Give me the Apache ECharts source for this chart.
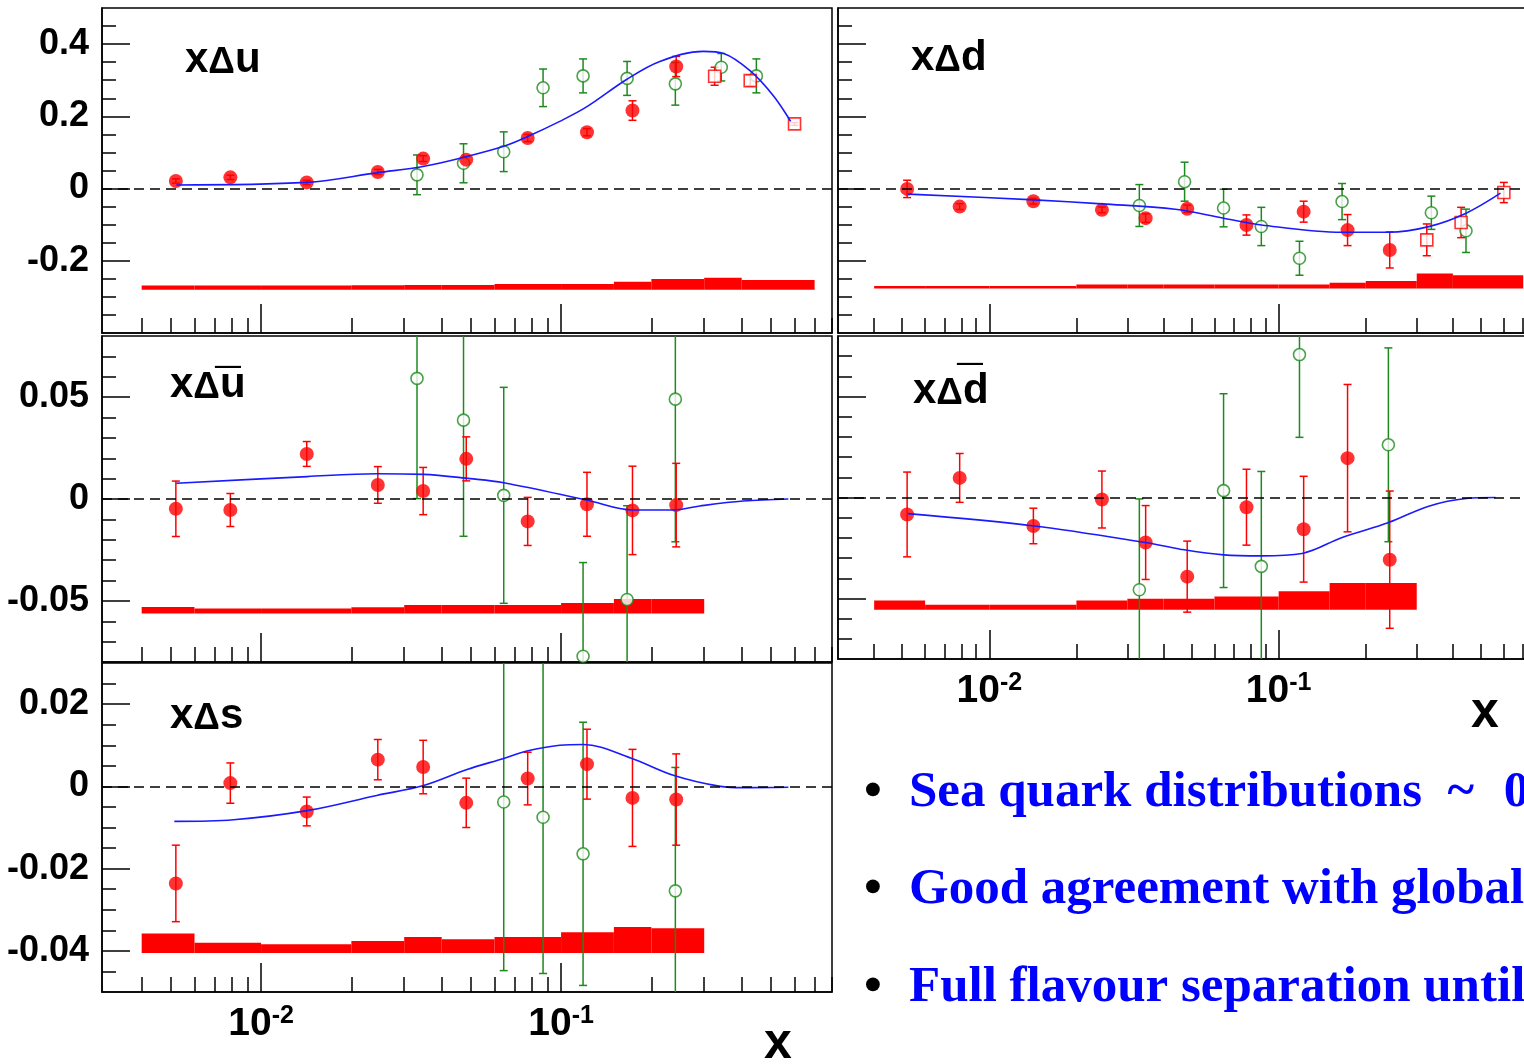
<!DOCTYPE html>
<html><head><meta charset="utf-8">
<script src="https://cdn.jsdelivr.net/npm/echarts@6/dist/echarts.min.js"></script>
<style>html,body{margin:0;padding:0;background:#fff}#c{width:1524px;height:1064px}</style>
</head><body><div id="c"></div>
<script>
// ---------------- DATA ----------------
const hermesX = [0.0052, 0.0079, 0.0142, 0.0245, 0.0347, 0.0483, 0.0774, 0.122, 0.173, 0.242];
const jlabX = [0.325, 0.427, 0.60];
const seaBinEdges = [0.004, 0.006, 0.01, 0.02, 0.03, 0.04, 0.06, 0.1, 0.15, 0.2, 0.3];
const valenceBinEdges = [0.004, 0.006, 0.01, 0.02, 0.03, 0.04, 0.06, 0.1, 0.15, 0.2, 0.3, 0.4, 0.7];

const xMajorTicks = [0.01, 0.1];
const xMinorTicks = [0.004,0.005,0.006,0.007,0.008,0.009,0.02,0.03,0.04,0.05,0.06,0.07,0.08,0.09,0.2,0.3,0.4,0.5,0.6,0.7,0.8];
const valYTicks = [-0.2, 0, 0.2, 0.4];
const valYMinorTicks = [-0.35,-0.3,-0.25,-0.15,-0.1,-0.05,0.05,0.1,0.15,0.25,0.3,0.35,0.45];
const seaYTicks = [-0.05, 0, 0.05];
const seaYMinorTicks = [-0.07,-0.06,-0.04,-0.03,-0.02,-0.01,0.01,0.02,0.03,0.04,0.06,0.07];
const strYTicks = [-0.04, -0.02, 0, 0.02];
const strYMinorTicks = [-0.045,-0.035,-0.03,-0.025,-0.015,-0.01,-0.005,0.005,0.01,0.015,0.025];

// x Delta u
const redU = [0.021, 0.031, 0.017, 0.046, 0.083, 0.080, 0.140, 0.156, 0.216, 0.338];
const redUErr = [0.006, 0.006, 0.006, 0.007, 0.008, 0.009, 0.010, 0.010, 0.027, 0.028];
const greenUX = [0.0331, 0.0473, 0.0644, 0.0871, 0.1184, 0.166, 0.2404, 0.342, 0.4477];
const greenU = [0.038, 0.070, 0.102, 0.279, 0.312, 0.305, 0.290, 0.336, 0.312];
const greenUErr = [0.055, 0.054, 0.055, 0.052, 0.047, 0.047, 0.059, 0.038, 0.047];
const jlabU = [0.311, 0.299, 0.179];
const jlabUErr = [0.025, 0.015, 0.004];
const curveUX = [0.00522, 0.01423, 0.02447, 0.03467, 0.0486, 0.0644, 0.0774, 0.099, 0.1216, 0.1653, 0.2134, 0.2978, 0.3484, 0.4283, 0.5123, 0.5824];
const curveU = [0.010, 0.017, 0.044, 0.061, 0.089, 0.117, 0.144, 0.186, 0.226, 0.302, 0.352, 0.380, 0.374, 0.325, 0.255, 0.186];
const bandUTop = [-0.2686, -0.2686, -0.2686, -0.268, -0.267, -0.267, -0.2644, -0.2644, -0.258, -0.2505, -0.247, -0.2533];
const bandUBase = -0.2805;

// x Delta d
const redD = [-0.001, -0.050, -0.035, -0.059, -0.082, -0.056, -0.101, -0.064, -0.115, -0.170];
const redDErr = [0.024, 0.008, 0.008, 0.008, 0.012, 0.010, 0.028, 0.029, 0.043, 0.050];
const greenDX = [0.033, 0.0473, 0.0645, 0.0871, 0.118, 0.1656, 0.337, 0.444];
const greenD = [-0.047, 0.019, -0.054, -0.105, -0.193, -0.036, -0.067, -0.117];
const greenDErr = [0.058, 0.054, 0.052, 0.053, 0.047, 0.050, 0.046, 0.060];
const jlabD = [-0.142, -0.094, -0.011];
const jlabDErr = [0.044, 0.042, 0.028];
const curveDX = [0.00524, 0.0143, 0.02453, 0.0439, 0.0645, 0.0871, 0.1656, 0.240, 0.330, 0.4443, 0.5842];
const curveD = [-0.0155, -0.0313, -0.0424, -0.0571, -0.0821, -0.1007, -0.121, -0.121, -0.1054, -0.0682, -0.0128];
const bandDTop = [-0.270, -0.270, -0.270, -0.266, -0.266, -0.266, -0.266, -0.266, -0.261, -0.256, -0.235, -0.240];
const bandDBase = -0.2765;

// x Delta u-bar
const redUbar = [-0.0048, -0.0054, 0.0221, 0.0069, 0.0039, 0.0197, -0.0110, -0.0026, -0.0056, -0.0030];
const redUbarErr = [0.0136, 0.0081, 0.0061, 0.0090, 0.0116, 0.0108, 0.0118, 0.0157, 0.0217, 0.0205];
const greenUbarX = [0.0331, 0.0473, 0.0644, 0.1184, 0.166, 0.2404];
const greenUbar = [0.0592, 0.0387, 0.0018, -0.0772, -0.0493, 0.0490];
const greenUbarErr = [0.059, 0.057, 0.053, 0.046, 0.046, 0.070];
const curveUbarX = [0.00522, 0.01423, 0.0243, 0.0347, 0.0498, 0.0644, 0.1216, 0.1733, 0.2366, 0.2902, 0.4048, 0.5723];
const curveUbar = [0.0077, 0.0110, 0.0124, 0.0121, 0.0100, 0.0080, -0.0005, -0.0054, -0.0054, -0.0034, -0.0010, 0.0000];
const bandUbarTop = [-0.0530, -0.0537, -0.0537, -0.0531, -0.0520, -0.0520, -0.0520, -0.0510, -0.0491, -0.0491];
const bandUbarBase = -0.0562;

// x Delta d-bar
const redDbar = [-0.0084, 0.0097, -0.0141, -0.0010, -0.0223, -0.0392, -0.0048, -0.0157, 0.0195, -0.0308];
const redDbarErr = [0.0210, 0.0121, 0.0088, 0.0141, 0.0183, 0.0176, 0.0188, 0.0262, 0.0365, 0.0340];
const greenDbarX = [0.033, 0.0645, 0.0871, 0.118, 0.2394];
const greenDbar = [-0.0457, 0.0034, -0.0341, 0.0708, 0.0261];
const greenDbarErr = [0.045, 0.048, 0.047, 0.041, 0.048];
const curveDbarX = [0.00524, 0.0143, 0.0346, 0.0457, 0.0645, 0.0871, 0.1205, 0.1656, 0.240, 0.330, 0.4443, 0.5615];
const curveDbar = [-0.0080, -0.0141, -0.0223, -0.0256, -0.0284, -0.0289, -0.0277, -0.0198, -0.0124, -0.0043, -0.0005, 0.0000];
const bandDbarTop = [-0.0510, -0.0531, -0.0531, -0.0510, -0.0502, -0.0502, -0.0490, -0.0464, -0.0424, -0.0424];
const bandDbarBase = -0.0556;

// x Delta s
const redS = [-0.0236, 0.0008, -0.0061, 0.0065, 0.0047, -0.0040, 0.0019, 0.0054, -0.0028, -0.0032];
const redSErr = [0.0093, 0.0049, 0.0035, 0.0049, 0.0065, 0.0060, 0.0064, 0.0085, 0.0118, 0.0111];
const greenSX = [0.0644, 0.0871, 0.1184, 0.2404];
const greenS = [-0.0038, -0.0075, -0.0164, -0.0254];
const greenSErr = [0.041, 0.038, 0.032, 0.030];
const curveSX = [0.00514, 0.0081, 0.01423, 0.0243, 0.0348, 0.0486, 0.0644, 0.077, 0.099, 0.1187, 0.1706, 0.2366, 0.3397, 0.4048, 0.5723];
const curveS = [-0.0085, -0.0081, -0.0059, -0.0022, 0.0002, 0.0041, 0.0068, 0.0086, 0.0100, 0.0102, 0.0069, 0.0027, 0.0000, -0.0003, -0.0002];
const bandSTop = [-0.0358, -0.0380, -0.0384, -0.0376, -0.0366, -0.0372, -0.0366, -0.0355, -0.0342, -0.0345];
const bandSBase = -0.0405;

const bulletTexts = ['Sea quark distributions  ~  \u200A0', 'Good agreement with global', 'Full flavour separation until'];

// ---------------- STYLE ----------------
const RED = '#ff0000', GREEN = '#1d8a1d', BLUE = '#1a1aff';
const FONT = '"Liberation Sans", Arial, Helvetica, sans-serif';
const SERIF = '"Liberation Serif", "Times New Roman", serif';

const panels = [
  {grid:{left:102, top:8, width:730, height:325}, xmin:0.00295, ymin:-0.4, ymax:0.5,
   yMajor:valYTicks, yMinor:valYMinorTicks, yLabels:true, xLabels:false,
   edges:valenceBinEdges, bandTop:bandUTop, bandBase:bandUBase,
   red:[hermesX, redU, redUErr], green:[greenUX, greenU, greenUErr], sq:[jlabX, jlabU, jlabUErr], curve:[curveUX, curveU]},
  {grid:{left:838, top:8, width:702, height:325}, xmin:0.003, ymin:-0.4, ymax:0.5,
   yMajor:valYTicks, yMinor:valYMinorTicks, yLabels:false, xLabels:false,
   edges:valenceBinEdges, bandTop:bandDTop, bandBase:bandDBase,
   red:[hermesX, redD, redDErr], green:[greenDX, greenD, greenDErr], sq:[jlabX, jlabD, jlabDErr], curve:[curveDX, curveD]},
  {grid:{left:102, top:336, width:730, height:326}, xmin:0.00295, ymin:-0.08, ymax:0.08,
   yMajor:seaYTicks, yMinor:seaYMinorTicks, yLabels:true, xLabels:false,
   edges:seaBinEdges, bandTop:bandUbarTop, bandBase:bandUbarBase,
   red:[hermesX, redUbar, redUbarErr], green:[greenUbarX, greenUbar, greenUbarErr], sq:null, curve:[curveUbarX, curveUbar]},
  {grid:{left:838, top:336, width:702, height:323}, xmin:0.003, ymin:-0.08, ymax:0.08,
   yMajor:seaYTicks, yMinor:seaYMinorTicks, yLabels:false, xLabels:true,
   edges:seaBinEdges, bandTop:bandDbarTop, bandBase:bandDbarBase,
   red:[hermesX, redDbar, redDbarErr], green:[greenDbarX, greenDbar, greenDbarErr], sq:null, curve:[curveDbarX, curveDbar]},
  {grid:{left:102, top:663, width:730, height:329}, xmin:0.00295, ymin:-0.05, ymax:0.03,
   yMajor:strYTicks, yMinor:strYMinorTicks, yLabels:true, xLabels:true,
   edges:seaBinEdges, bandTop:bandSTop, bandBase:bandSBase,
   red:[hermesX, redS, redSErr], green:[greenSX, greenS, greenSErr], sq:null, curve:[curveSX, curveS]}
];

const fmtY = v => { const r = Math.round(v * 1000) / 1000; return r === 0 ? '0' : String(r); };
const fmtX = v => '{b|10}{s|' + Math.round(Math.log10(v)) + '}';

const grids = [], xAxes = [], yAxes = [], series = [];

function errRender(color, ymin, ymax) {
  return function (params, api) {
    const x = api.value(0), y = api.value(1), e = api.value(2);
    const lo = y - e, hi = y + e;
    const pLo = api.coord([x, Math.max(lo, ymin)]);
    const pHi = api.coord([x, Math.min(hi, ymax)]);
    const cap = 4, st = {stroke: color, lineWidth: 1.5};
    const ch = [{type:'line', shape:{x1:pLo[0], y1:pLo[1], x2:pHi[0], y2:pHi[1]}, style:st}];
    if (lo >= ymin) ch.push({type:'line', shape:{x1:pLo[0]-cap, y1:pLo[1], x2:pLo[0]+cap, y2:pLo[1]}, style:st});
    if (hi <= ymax) ch.push({type:'line', shape:{x1:pHi[0]-cap, y1:pHi[1], x2:pHi[0]+cap, y2:pHi[1]}, style:st});
    return {type:'group', children:ch};
  };
}
function bandRender(params, api) {
  const p0 = api.coord([api.value(0), api.value(2)]);
  const p1 = api.coord([api.value(1), api.value(3)]);
  return {type:'rect', shape:{x:p0[0], y:p0[1], width:p1[0]-p0[0], height:p1[1]-p0[1]}, style:{fill:RED}};
}
const zip3 = (a, b, c) => a.map((v, i) => [v, b[i], c[i]]);

panels.forEach((p, gi) => {
  grids.push(Object.assign({show:true, borderColor:'#000', borderWidth:1.5, containLabel:false, outerBoundsMode:'none'}, p.grid));
  const tickStyle = {color:'#000', width:1.5};
  xAxes.push({type:'log', logBase:10, gridIndex:gi, position:'bottom', min:p.xmin, max:0.8,
    axisLine:{show:true, onZero:false, lineStyle:tickStyle},
    axisTick:{show:true, inside:true, length:29, customValues:xMajorTicks, lineStyle:tickStyle},
    axisLabel:{show:p.xLabels, customValues:xMajorTicks, margin:12, formatter:fmtX,
      rich:{b:{fontSize:39, fontWeight:'bold', fontFamily:FONT, color:'#000', lineHeight:40, verticalAlign:'bottom'},
            s:{fontSize:25, fontWeight:'bold', fontFamily:FONT, color:'#000', lineHeight:40, verticalAlign:'top'}}},
    splitLine:{show:false}, minorTick:{show:false}});
  xAxes.push({type:'log', logBase:10, gridIndex:gi, position:'bottom', min:p.xmin, max:0.8,
    axisLine:{show:false, onZero:false},
    axisTick:{show:true, inside:true, length:15, customValues:xMinorTicks, lineStyle:tickStyle},
    axisLabel:{show:false}, splitLine:{show:false}});
  yAxes.push({type:'value', gridIndex:gi, position:'left', min:p.ymin, max:p.ymax,
    axisLine:{show:true, onZero:false, lineStyle:tickStyle},
    axisTick:{show:true, inside:true, length:28, customValues:p.yMajor, lineStyle:tickStyle},
    axisLabel:{show:p.yLabels, customValues:p.yMajor, margin:13, formatter:fmtY, color:'#000',
      fontSize:36, fontWeight:'bold', fontFamily:FONT},
    splitLine:{show:false}});
  yAxes.push({type:'value', gridIndex:gi, position:'left', min:p.ymin, max:p.ymax,
    axisLine:{show:false, onZero:false},
    axisTick:{show:true, inside:true, length:14, customValues:p.yMinor, lineStyle:tickStyle},
    axisLabel:{show:false}, splitLine:{show:false}});

  const ax = {xAxisIndex:2*gi, yAxisIndex:2*gi};
  const bandData = p.bandTop.map((t, i) => [p.edges[i], p.edges[i+1], t, p.bandBase]);
  series.push(Object.assign({type:'custom', renderItem:bandRender, data:bandData, encode:{x:[0,1], y:[2,3]}, silent:true,
    markLine:{silent:true, symbol:'none', label:{show:false}, lineStyle:{color:'#000', width:1.6, type:[10,6]},
      data:[{yAxis:0}]}}, ax));
  series.push(Object.assign({type:'custom', renderItem:errRender(GREEN, p.ymin, p.ymax), clip:true,
    data:zip3(p.green[0], p.green[1], p.green[2]), encode:{x:0, y:1}}, ax));
  series.push(Object.assign({type:'scatter', symbol:'circle', symbolSize:12,
    itemStyle:{color:'#fff', borderColor:GREEN, borderWidth:1.6},
    data:p.green[0].map((x, i) => [x, p.green[1][i]])}, ax));
  series.push(Object.assign({type:'line', smooth:0.35, symbol:'none', lineStyle:{color:BLUE, width:1.6},
    data:p.curve[0].map((x, i) => [x, p.curve[1][i]])}, ax));
  series.push(Object.assign({type:'custom', renderItem:errRender(RED, p.ymin, p.ymax), clip:true,
    data:zip3(p.red[0], p.red[1], p.red[2]), encode:{x:0, y:1}}, ax));
  series.push(Object.assign({type:'scatter', symbol:'circle', symbolSize:14, itemStyle:{color:RED},
    data:p.red[0].map((x, i) => [x, p.red[1][i]])}, ax));
  if (p.sq) {
    series.push(Object.assign({type:'custom', renderItem:errRender(RED, p.ymin, p.ymax), clip:true,
      data:zip3(p.sq[0], p.sq[1], p.sq[2]), encode:{x:0, y:1}}, ax));
    series.push(Object.assign({type:'scatter', symbol:'rect', symbolSize:12,
      itemStyle:{color:'#fff', borderColor:RED, borderWidth:1.6},
      data:p.sq[0].map((x, i) => [x, p.sq[1][i]])}, ax));
  }
});

// ---------------- TEXT ----------------
const richLbl = {
  a:{fontSize:42, fontWeight:'bold', fontFamily:FONT, fill:'#000', lineHeight:42, verticalAlign:'bottom'},
  d:{fontSize:37, fontWeight:'bold', fontFamily:FONT, fill:'#000', lineHeight:42, verticalAlign:'bottom'}
};
function panelLabel(x, y, q) {
  return {type:'text', x:x, y:y, z:100, style:{text:'{a|x}{d|Δ}{a|' + q + '}', rich:richLbl, align:'left', verticalAlign:'top'}};
}
function overbar(x, y) {
  return {type:'text', x:x, y:y, z:100, style:{text:'¯', fontSize:46, fontWeight:'bold', fontFamily:FONT, fill:'#000', align:'center', verticalAlign:'middle'}};
}
function xName(x, y) {
  return {type:'text', x:x, y:y, z:100, style:{text:'x', fontSize:50, fontWeight:'bold', fontFamily:FONT, fill:'#000', align:'center', verticalAlign:'middle'}};
}
const graphics = [
  panelLabel(185, 39, 'u'),
  panelLabel(911, 37, 'd'),
  panelLabel(170, 364, 'u'),
  panelLabel(913, 370, 'd'),
  panelLabel(170, 695, 's'),
  overbar(228, 388), overbar(970, 385),
  xName(778, 1044), xName(1485, 713)
];
const bulletY = [793, 890, 988];
bulletTexts.forEach((t, i) => {
  graphics.push({type:'text', x:873, y:bulletY[i], z:100, style:{text:'•', fontSize:51, fontWeight:'bold', fontFamily:SERIF, fill:'#000', align:'center', verticalAlign:'middle'}});
  graphics.push({type:'text', x:909, y:bulletY[i], z:100, style:{text:t, fontSize:51, fontWeight:'bold', fontFamily:SERIF, fill:'#0000ff', align:'left', verticalAlign:'middle'}});
});

const chart = echarts.init(document.getElementById('c'), null, {renderer:'canvas'});
chart.setOption({
  animation:false,
  backgroundColor:'#fff',
  grid:grids, xAxis:xAxes, yAxis:yAxes, series:series,
  graphic:graphics
});
</script></body></html>
